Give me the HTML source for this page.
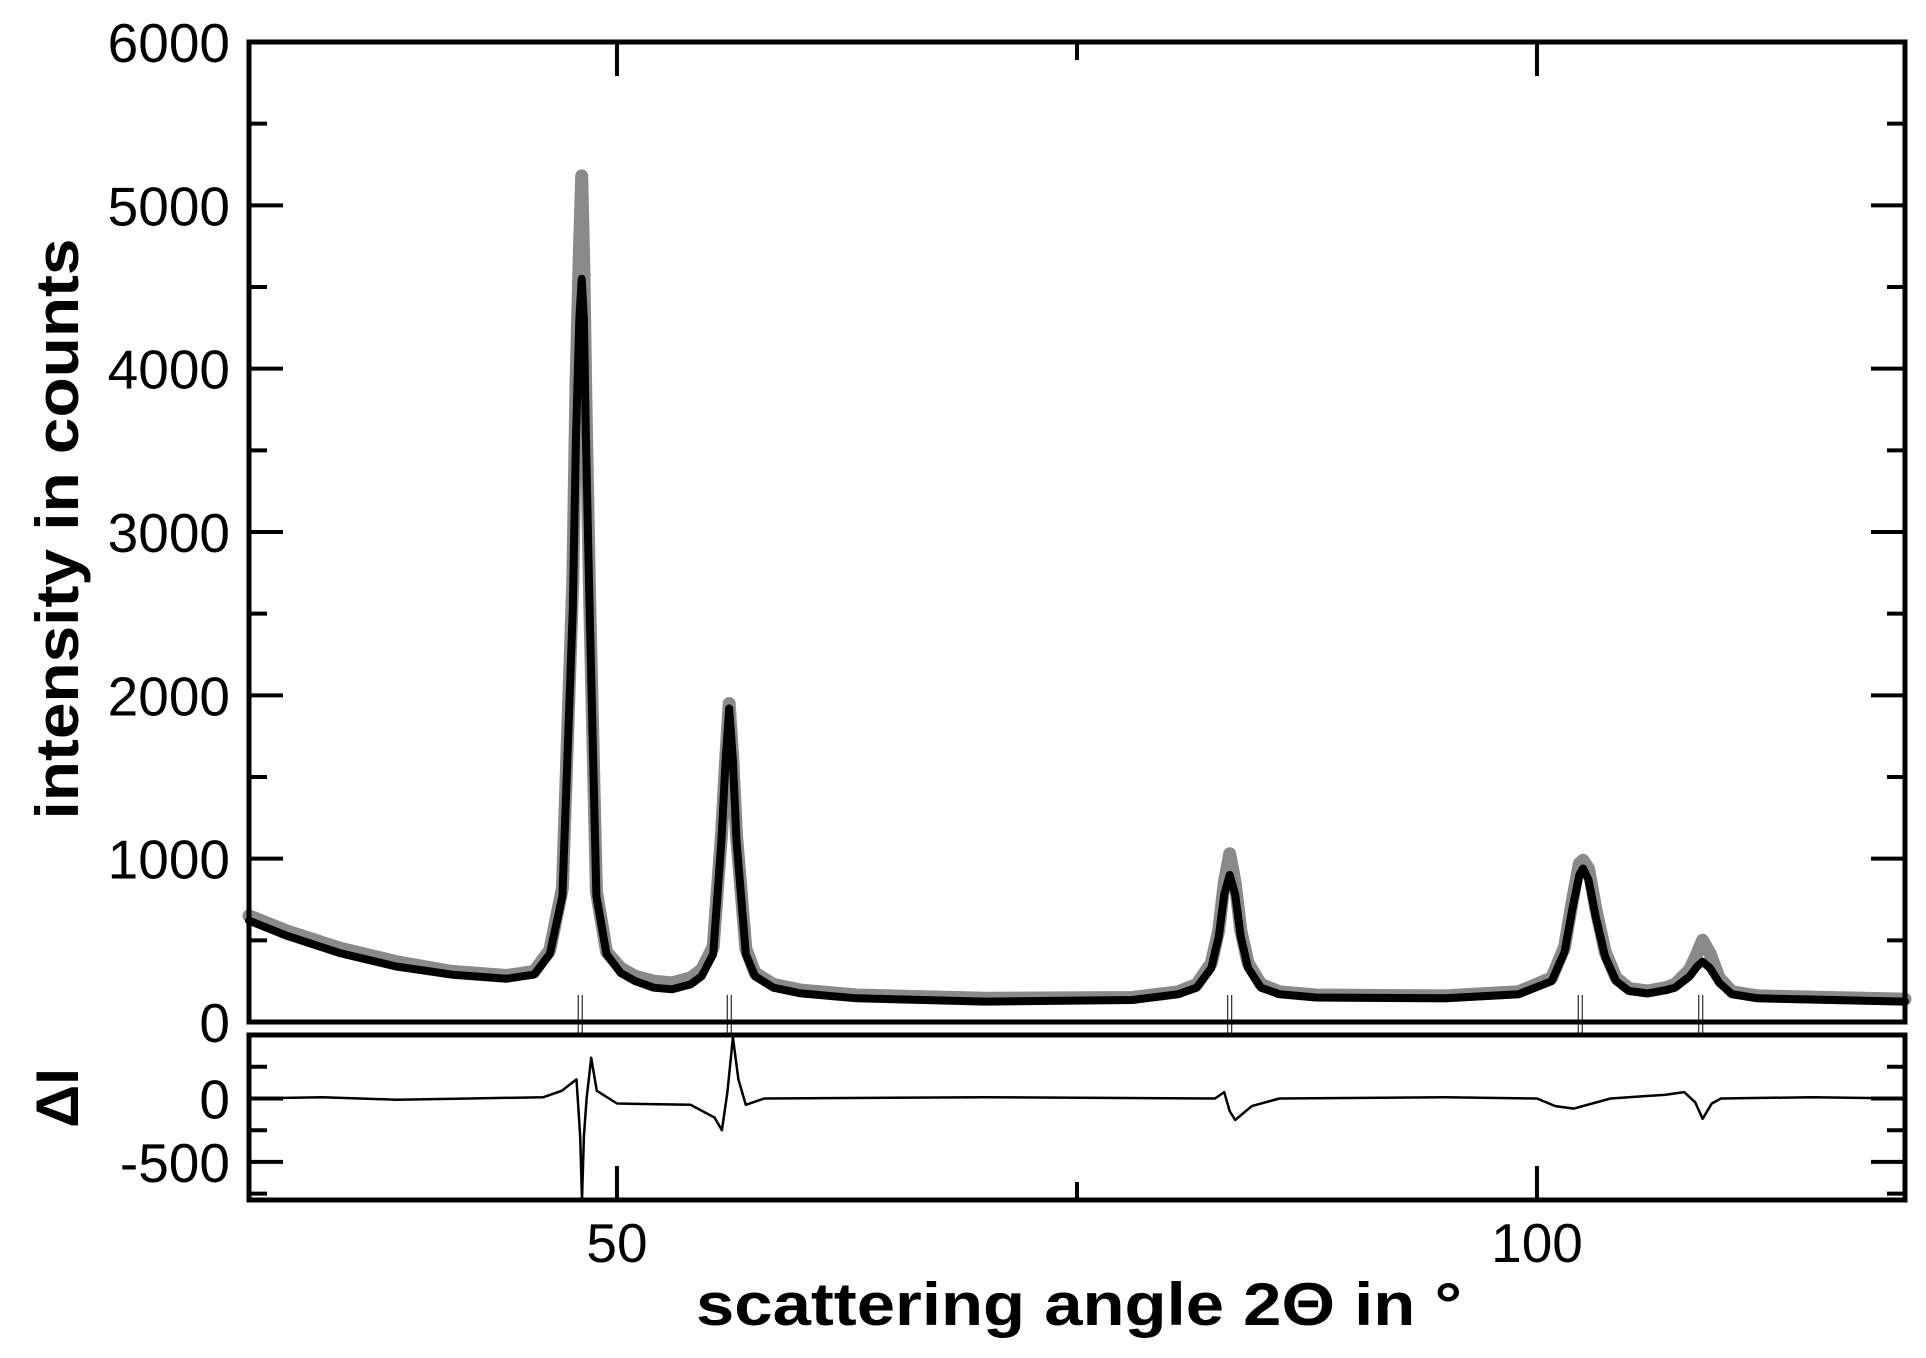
<!DOCTYPE html>
<html><head><meta charset="utf-8"><style>
html,body{margin:0;padding:0;background:#fff;}
svg{display:block;font-family:"Liberation Sans",sans-serif;}
</style></head><body>
<svg id="chart" width="1926" height="1358" viewBox="0 0 1926 1358" xmlns="http://www.w3.org/2000/svg">
<g id="marks"></g>
<g id="frame"></g>
<text transform="translate(78,529) rotate(-90)" text-anchor="middle" font-weight="bold" font-size="60" textLength="581" lengthAdjust="spacingAndGlyphs">intensity in counts</text>
<text transform="translate(78,1098) rotate(-90)" text-anchor="middle" font-weight="bold" font-size="60">ΔI</text>
<text x="1079" y="1325" text-anchor="middle" font-weight="bold" font-size="60" textLength="766" lengthAdjust="spacingAndGlyphs">scattering angle 2Θ  in °</text>
</svg>
<script>
const angleX = [30,32,35,38,41,44,45.5,46.35,47.03,47.6,47.77,47.95,48.08,48.2,48.31,48.51,48.88,49.43,50.2,51,52,53,54,54.6,55.23,55.68,55.9,56.1,56.3,56.49,57.0,57.5,58.5,60,63,70,78,80.5,81.5,82.3,82.7,83.0,83.3,83.6,83.9,84.3,85,86,88,95,99,100.8,101.5,101.9,102.3,102.5,102.8,103.2,103.7,104.3,105,106,107,107.5,108.3,108.7,109.0,109.4,109.9,110.6,112,120];
const fitY = [620,530,420,340,290,265,290,416,771,2529,3582,4300,4550,4300,3582,2529,771,416,300,250,210,200,230,280,416,1120,1600,1920,1600,1120,416,280,210,175,145,125,135,170,210,330,520,780,900,780,520,330,210,170,150,145,170,250,430,680,900,940,870,640,400,250,190,175,195,210,280,340,370,330,240,170,145,125];
const obsY = [650,560,450,370,310,285,310,440,820,2700,3900,4700,5180,4600,3800,2600,800,430,330,280,250,240,270,320,460,1150,1600,1950,1600,1150,450,300,230,195,165,145,150,185,230,360,560,850,1030,850,560,360,230,185,165,160,185,270,460,730,970,990,940,690,430,270,205,190,210,230,320,420,500,420,270,185,160,140];
const braggX = [48.0,56.1,83.3,102.35,108.9];
const diffX = [30,34,38,42,46,47,47.8,48.0,48.1,48.2,48.35,48.6,48.9,50,54,55.3,55.7,56.0,56.3,56.6,57,58,70,82.5,83,83.3,83.6,84.5,86,95,100,101,102,103,104,107,108,108.6,109,109.5,110,115,120];
const diffY = [0,10,-10,0,10,60,150,-300,-800,-300,0,320,60,-40,-50,-150,-250,50,480,150,-50,0,10,0,50,-100,-170,-60,0,10,0,-60,-80,-40,0,30,50,-30,-160,-40,0,10,0];
const yTicks = [0,1000,2000,3000,4000,5000,6000];
const dTicks = [0,-500];
const xTicks = [50,100];

const L=249,R=1905,T=42,B0=1022,LT=1035,LB=1200;
const sx = x => L+(x-30)*(R-L)/90;
const sy = y => B0 - y*(B0-T)/6000;
const sd = d => LT + (500-d)*(LB-LT)/1300;
const NS="http://www.w3.org/2000/svg";
const marks=document.getElementById('marks'), frame=document.getElementById('frame');
function el(tag,attrs,parent){const e=document.createElementNS(NS,tag);for(const k in attrs)e.setAttribute(k,attrs[k]);parent.appendChild(e);return e;}
function pts(xs,ys,f){return xs.map((x,i)=>sx(x).toFixed(1)+','+f(ys[i]).toFixed(1)).join(' ');}

let o=el('polyline',{points:pts(angleX,obsY,sy),fill:'none',stroke:'#8a8a8a','stroke-width':13,'stroke-linejoin':'round','stroke-linecap':'round'},marks);


angleX.forEach((x,i)=>{const c=el('circle',{cx:sx(x),cy:sy(obsY[i]),r:4.5,fill:'none',stroke:'#8a8a8a','stroke-width':3},marks);

});
let f=el('polyline',{points:pts(angleX,fitY,sy),fill:'none',stroke:'#000','stroke-width':8,'stroke-linejoin':'round','stroke-linecap':'round'},marks);


braggX.forEach(b=>{[-2,2].forEach(o2=>{const l=el('line',{x1:sx(b)+o2,x2:sx(b)+o2,y1:995,y2:1035,stroke:'#000','stroke-width':1},marks);

});});
let d=el('polyline',{points:pts(diffX,diffY,sd),fill:'none',stroke:'#000','stroke-width':2.5,'stroke-linejoin':'round'},marks);



function box(y1,y2,name){const r=el('rect',{x:L,y:y1,width:R-L,height:y2-y1,fill:'none',stroke:'#000','stroke-width':5},frame);

}
box(T,B0,'top-panel-frame'); box(LT,LB,'bottom-panel-frame');
function ln(x1,y1,x2,y2,w){const l=el('line',{x1,y1,x2,y2,stroke:'#000','stroke-width':w||4},frame);

}
for(let v=0;v<=6000;v+=500){const y=sy(v),len=(v%1000===0)?34:18;ln(L,y,L+len,y);ln(R,y,R-len,y);}
yTicks.forEach(v=>{const t=el('text',{x:230,y:sy(v)+20,'text-anchor':'end','font-size':55},frame);t.textContent=v;

});
[250,0,-250,-500,-750].forEach(v=>{const y=sd(v),len=(v%500===0)?34:18;ln(L,y,L+len,y);ln(R,y,R-len,y);});
dTicks.forEach(v=>{const t=el('text',{x:230,y:sd(v)+20,'text-anchor':'end','font-size':55},frame);t.textContent=v;

});
[50,75,100].forEach(v=>{const x=sx(v),len=(v%50===0)?34:18;ln(x,T,x,T+len);ln(x,LB,x,LB-len);});
xTicks.forEach(v=>{const t=el('text',{x:sx(v),y:1262,'text-anchor':'middle','font-size':55},frame);t.textContent=v;

});
</script>
</body></html>
